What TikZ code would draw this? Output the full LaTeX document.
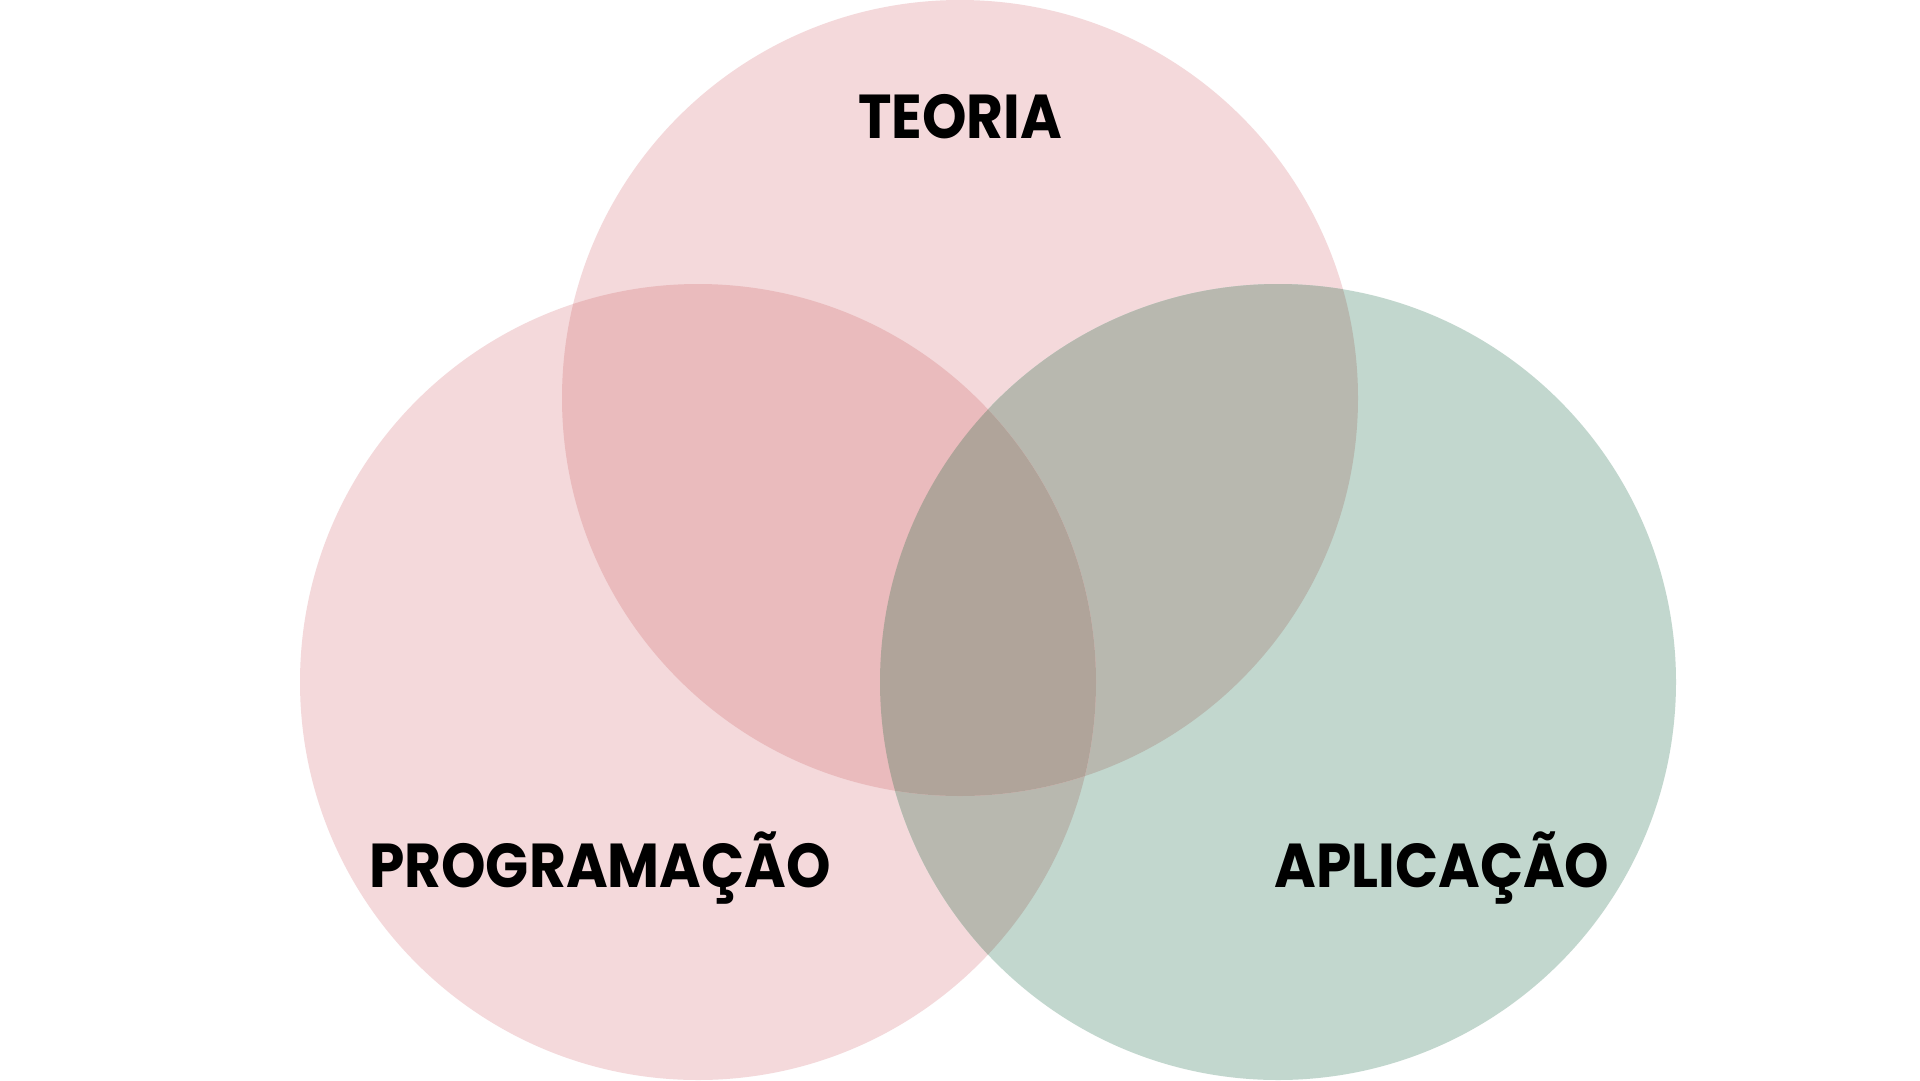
\documentclass[tikz,border=0pt]{standalone}
\usepackage{fontspec}
\setmainfont{Poppins}
\newcommand{\vennlabel}[1]{\scalebox{0.913}[1]{#1}}
\begin{document}
\begin{tikzpicture}[x=1pt,y=-1pt,
  label/.style={font=\fontsize{62}{62}\selectfont\bfseries, text=black, inner sep=0pt, anchor=base}]
\definecolor{pinkA}{HTML}{F4D9DB}
\definecolor{pinkB}{HTML}{EABBBD}
\definecolor{greenA}{HTML}{C2D7CE}
\definecolor{greyA}{HTML}{B8B8AF}
\definecolor{greyB}{HTML}{B0A49A}
\useasboundingbox (0,0) rectangle (1920,1080);
\fill[white] (0,0) rectangle (1920,1080);
\def\R{398}
\coordinate (ct) at (960,398);
\coordinate (cl) at (698,682);
\coordinate (cr) at (1278,682);
% base discs
\fill[pinkA] (ct) circle (\R);
\fill[pinkA] (cl) circle (\R);
\fill[greenA] (cr) circle (\R);
% pairwise overlaps
\begin{scope}
  \clip (cr) circle (\R);
  \fill[greyA] (ct) circle (\R);
  \fill[greyA] (cl) circle (\R);
\end{scope}
\begin{scope}
  \clip (ct) circle (\R);
  \fill[pinkB] (cl) circle (\R);
\end{scope}
% triple overlap
\begin{scope}
  \clip (ct) circle (\R);
  \clip (cl) circle (\R);
  \fill[greyB] (cr) circle (\R);
\end{scope}
\node[label] (teoria) at (960,138) {\vennlabel{TEORIA}};
\node[label] (prog) at (600,887) {\vennlabel{PROGRAMAÇÃO}};
\node[label] (aplic) at (1442,887) {\vennlabel{APLICAÇÃO}};
\end{tikzpicture}
\end{document}
